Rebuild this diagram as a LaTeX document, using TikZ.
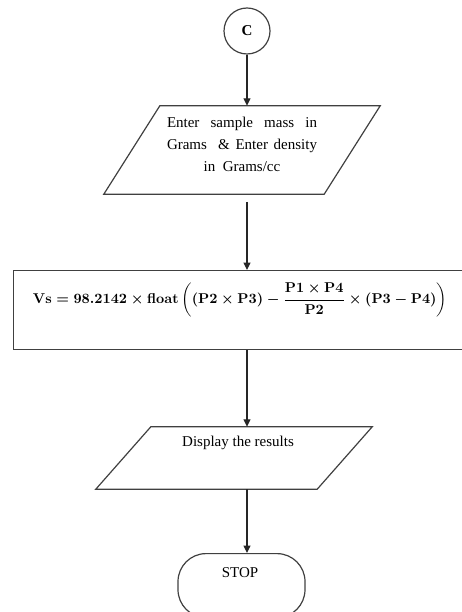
\documentclass[tikz,border=0pt]{standalone}
\usepackage{fontspec}
\setmainfont{Liberation Serif}
\usepackage{amsmath}
\usetikzlibrary{arrows.meta}
\begin{document}
\begin{tikzpicture}[x=1pt,y=-1pt,
  line/.style={draw=black!75, line width=1.2pt},
  arr/.style={draw=black!85, line width=1.1pt, -{Triangle[length=7.5pt,width=7pt]}},
  txt/.style={font=\fontsize{15}{22}\selectfont, inner sep=0pt, align=center},
  hold/.style={draw=none, inner sep=0pt}
]
\useasboundingbox (0,0) rectangle (462,612);
\clip (0,0) rectangle (462,612);
% connector C
\node[circle, line, minimum size=46pt, inner sep=0pt, font=\bfseries\fontsize{15}{18}\selectfont] (c) at (247,31) {C};
% input 1
\node[hold, minimum width=220pt, minimum height=88pt] (in1) at (242,150) {};
\draw[line] ([xshift=28pt]in1.north west) -- ([xshift=28pt]in1.north east)
  -- ([xshift=-28pt]in1.south east) -- ([xshift=-28pt]in1.south west) -- cycle;
\node[txt] (in1t) at (242,144) {\makebox[150pt][s]{Enter sample mass in}\\
  \makebox[150pt][s]{Grams \ \& Enter density}\\ in \ Grams/cc};
% process box
\node[line, inner sep=0pt, minimum width=462pt, minimum height=79pt, anchor=north west] (calc) at (13,270) {};
\node[inner sep=0pt] (calct) at (240,300) {\resizebox{414pt}{!}{\boldmath$\mathbf{Vs} = \mathbf{98.2142}\times\mathbf{float}\left((\mathbf{P2}\times\mathbf{P3}) - \dfrac{\mathbf{P1}\times\mathbf{P4}}{\mathbf{P2}}\times(\mathbf{P3}-\mathbf{P4})\right)$}};
% output
\node[hold, minimum width=221pt, minimum height=62pt] (out) at (234,458) {};
\draw[line] ([xshift=27.5pt]out.north west) -- ([xshift=27.5pt]out.north east)
  -- ([xshift=-27.5pt]out.south east) -- ([xshift=-27.5pt]out.south west) -- cycle;
\node[txt] (outt) at (238,443) {Display the results};
% stop
\node[line, rounded corners=28pt, minimum width=127pt, minimum height=64pt, anchor=north, inner sep=0pt] (stop) at (241.5,553) {};
\node[txt] (stopt) at (240,573) {STOP};
% connectors
\coordinate (a2) at (247,202);
\draw[arr] (c.south) -- (c.south |- in1.north);
\draw[arr] (a2) -- (a2 |- calc.north);
\draw[arr] (a2 |- calc.south) -- (a2 |- out.north);
\draw[arr] (a2 |- out.south) -- (a2 |- stop.north);
\end{tikzpicture}
\end{document}
